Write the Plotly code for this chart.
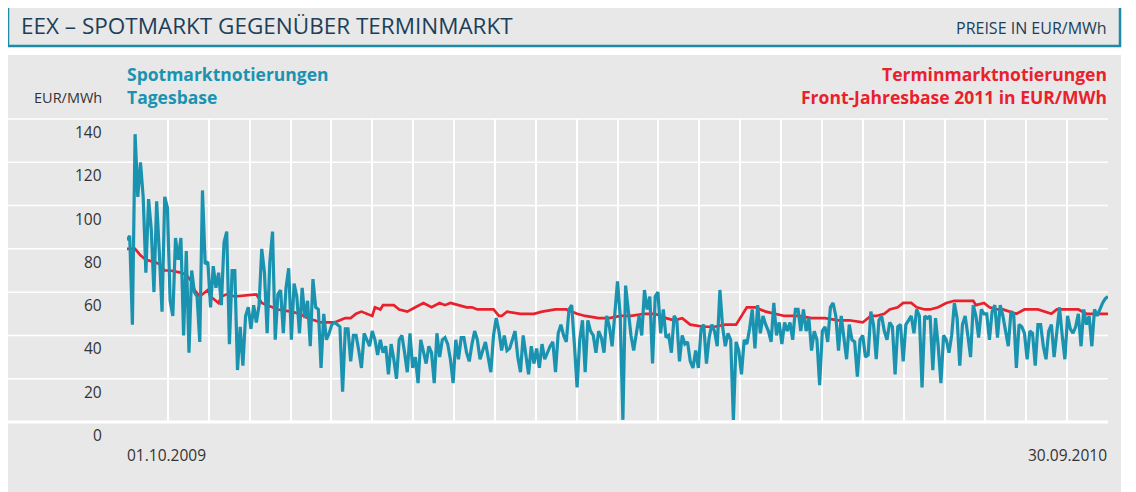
import plotly.graph_objects as go

# ---- data ----
spot_a = [84, 86, 45, 133, 104, 120, 104, 69, 103, 89,
          60, 102, 78, 51, 104, 99, 56, 49, 85, 75,
          85, 40, 79, 32, 70, 60, 58, 37, 107, 73,
          74, 53, 72, 62, 69, 54, 83, 88, 36, 70,
          70, 24, 44, 26, 49, 53, 43, 54, 46, 54,
          80, 69, 41, 74, 88, 38, 59, 61, 41, 62,
          71, 38, 64, 58, 41, 62, 48, 56, 35, 66,
          53, 52, 25, 50, 38, 41, 45, 46, 45, 44,
          14, 43, 43, 28, 40, 40, 33, 25, 41, 38,
          35, 42]
spot_b = [38, 31, 38, 32, 35, 22, 36, 29, 20, 38,
          40, 32, 23, 41, 25, 30, 18, 38, 32, 27,
          35, 32, 18, 41, 30, 38, 39, 36, 29, 18,
          38, 29, 39, 39, 32, 28, 36, 42, 38, 29,
          33, 37, 30, 23, 40, 48, 42, 33, 40, 33,
          34, 38, 42, 30, 23, 40, 30, 22, 35, 27,
          34, 25, 36, 29, 32, 35, 37, 23, 41, 45,
          40, 37, 52, 54, 36, 16, 38, 47, 23, 47,
          42, 40, 32, 42, 39, 32, 49, 44, 35]
spot_c = [50, 65, 49, 1,
          63, 53, 40, 33, 41, 49, 40, 61, 52, 58,
          27, 58, 60, 41, 52, 39, 40, 32, 49, 47,
          28, 40, 36, 37, 28, 25, 33, 25, 43, 45,
          27, 39, 45, 42, 35, 61, 44, 35, 41, 38,
          1,
          37, 33, 22, 38, 36, 43, 52, 34, 54, 41,
          49, 45, 42, 37, 55, 40, 46, 36, 46, 42,
          46, 38, 52, 52, 42, 52, 42, 48, 33, 42,
          38,
          17,
          42, 44, 37, 53, 55, 49, 33, 49, 39, 29, 45, 38, 37,
          21, 38]
spot_d = [40, 30, 31, 51, 45, 29, 47, 49, 42, 38,
          46, 44, 22, 44, 45, 28, 45, 47, 49, 41,
          52, 49, 16, 49, 48, 49, 24, 48, 35, 18,
          40, 38, 32, 40, 55, 48, 26, 45, 49, 40,
          30, 54, 49, 39, 52, 50, 50, 38, 51, 54,
          39, 54, 49, 42, 35, 51, 50, 25, 45, 44,
          41, 29, 42, 41, 26, 45, 45, 35, 29, 42,
          45, 30, 42, 53, 40, 29, 49, 43, 41, 44,
          50, 35, 52, 45, 49, 35, 52, 49, 52, 55,
          57, 58]
spot_values = spot_a + spot_b + spot_c + spot_d
spot_days = list(range(len(spot_values)))

term_days = [0, 3, 5, 7, 10, 12, 14, 16, 20, 22, 24, 25, 27, 30, 31, 34, 35, 37, 40,
             48, 50, 52, 56, 61, 64, 67, 72, 74, 77, 79, 81, 83, 85, 87, 89, 91,
             92, 94, 95, 99, 101, 104, 107, 110, 113, 116, 118, 120, 123, 126, 128,
             130, 133, 136, 138, 139, 141, 146, 151, 154, 159, 163, 167, 170, 175,
             179, 183, 187, 192, 196, 200, 203, 206, 209, 214, 218, 222, 226, 230,
             233, 237, 240, 244, 249, 254, 259, 264, 268, 273, 276, 278, 281, 283,
             286, 288, 291, 293, 296, 298, 301, 304, 307, 309, 312, 314, 315, 318,
             320, 323, 325, 328, 330, 333, 335, 338, 343, 345, 349, 353, 356, 360, 364]
term_values = [80, 80, 77, 75, 74, 73, 70, 70, 69, 68, 65, 61, 58, 61, 58, 55, 58, 59, 58,
               59, 55, 54, 52, 51, 50, 48, 46, 46, 46, 47, 48, 48, 50, 51, 50, 49,
               53, 52, 54, 54, 52, 51, 53, 55, 53, 55, 54, 55, 54, 53, 53,
               52, 52, 52, 49, 49, 51, 50, 50, 51, 52, 52, 50, 49, 48,
               48, 49, 49, 50, 50, 48, 47, 48, 45, 44, 44, 45, 45, 53,
               53, 51, 50, 49, 49, 48, 48, 47, 47, 46, 49, 49, 50, 52,
               53, 55, 55, 53, 52, 52, 53, 55, 56, 56, 56, 56, 54, 55,
               53, 52, 52, 51, 50, 52, 52, 52, 50, 52, 52, 52, 50, 50, 50]

y_ticks = [0, 20, 40, 60, 80, 100, 120, 140]
start_label = "01.10.2009"
end_label = "30.09.2010"
n_gridlines = 24

# ---- geometry / style (screen coordinates; page body offsets the figure by 8px) ----
W, H = 1136, 492
OFF = 8
L, R, T, B = 127, 1108, 119, 422
pw, ph = R - L, B - T
YMAX = 140
XMAX = len(spot_values) - 1

def px(x):
    return (x - L) / pw

def py(y):
    return (B - y) / ph

TEAL = "#1a93b0"
RED = "#e8212d"
BG = "#e8e8e8"
FONT = "Open Sans"
GREY_TXT = "#333333"
NAVY = "#1b3f58"

fig = go.Figure()
fig.add_trace(go.Scatter(x=term_days, y=term_values, mode="lines",
                         line=dict(color=RED, width=2.7), hoverinfo="skip"))
fig.add_trace(go.Scatter(x=spot_days, y=spot_values, mode="lines",
                         line=dict(color=TEAL, width=3.2), hoverinfo="skip"))

shapes = []
# chart panel background
shapes.append(dict(type="rect", xref="paper", yref="paper",
                   x0=px(7), x1=px(1121), y0=py(55), y1=py(W),
                   fillcolor=BG, line=dict(width=0), layer="below"))
# title box
shapes.append(dict(type="rect", xref="paper", yref="paper",
                   x0=px(8), x1=px(1120), y0=py(46), y1=py(6),
                   fillcolor=BG, line=dict(color="#1d8aa6", width=2.5), layer="below"))
# horizontal grid lines spanning to the left edge
for v in y_ticks:
    shapes.append(dict(type="line", xref="paper", yref="paper",
                       x0=px(7), x1=1, y0=v / YMAX, y1=v / YMAX,
                       line=dict(color="white", width=3 if v == 0 else 1.5),
                       layer="below"))

annotations = []
for v in y_ticks:
    annotations.append(dict(text=str(v), xref="paper", yref="paper",
                            x=px(104), y=v / YMAX, xanchor="right", yanchor="top",
                            yshift=0, showarrow=False,
                            font=dict(family=FONT, size=15.5, color=GREY_TXT)))
annotations += [
    dict(text="EUR/MWh", xref="paper", yref="paper", x=px(104), y=py(97),
         xanchor="right", yanchor="middle", showarrow=False,
         font=dict(family=FONT, size=14.5, color=GREY_TXT)),
    dict(text=start_label, xref="paper", yref="paper", x=px(125), y=py(455),
         xanchor="left", yanchor="middle", showarrow=False,
         font=dict(family=FONT, size=15.5, color=GREY_TXT)),
    dict(text=end_label, xref="paper", yref="paper", x=px(1109), y=py(455),
         xanchor="right", yanchor="middle", showarrow=False,
         font=dict(family=FONT, size=15.5, color=GREY_TXT)),
    dict(text="<b>Spotmarktnotierungen<br>Tagesbase</b>", xref="paper", yref="paper",
         x=px(125), y=py(86), xanchor="left", yanchor="middle", align="left",
         showarrow=False, font=dict(family=FONT, size=17.5, color=TEAL)),
    dict(text="<b>Terminmarktnotierungen<br>Front-Jahresbase 2011 in EUR/MWh</b>",
         xref="paper", yref="paper", x=px(1109), y=py(86), xanchor="right",
         yanchor="middle", align="right", showarrow=False,
         font=dict(family=FONT, size=17.5, color=RED)),
    dict(text="EEX – SPOTMARKT GEGENÜBER TERMINMARKT", xref="paper", yref="paper",
         x=px(19), y=py(26), xanchor="left", yanchor="middle", showarrow=False,
         font=dict(family=FONT, size=22.5, color=NAVY)),
    dict(text="PREISE IN EUR/MWh", xref="paper", yref="paper",
         x=px(1109), y=py(28), xanchor="right", yanchor="middle", showarrow=False,
         font=dict(family=FONT, size=16, color=NAVY)),
]

fig.update_layout(
    width=W, height=H,
    margin=dict(l=L - OFF, r=W - (R - OFF), t=T - OFF, b=H - (B - OFF), pad=0),
    paper_bgcolor="white", plot_bgcolor=BG,
    showlegend=False,
    shapes=shapes, annotations=annotations,
    xaxis=dict(range=[0, XMAX], showgrid=True, gridcolor="white", gridwidth=1.5,
               tickmode="array",
               tickvals=[i * XMAX / n_gridlines for i in range(n_gridlines + 1)],
               showticklabels=False, zeroline=False, showline=False, ticks=""),
    yaxis=dict(range=[0, YMAX], showgrid=False, zeroline=False,
               showticklabels=False, showline=False, ticks=""),
)

fig.write_html("out.html")
